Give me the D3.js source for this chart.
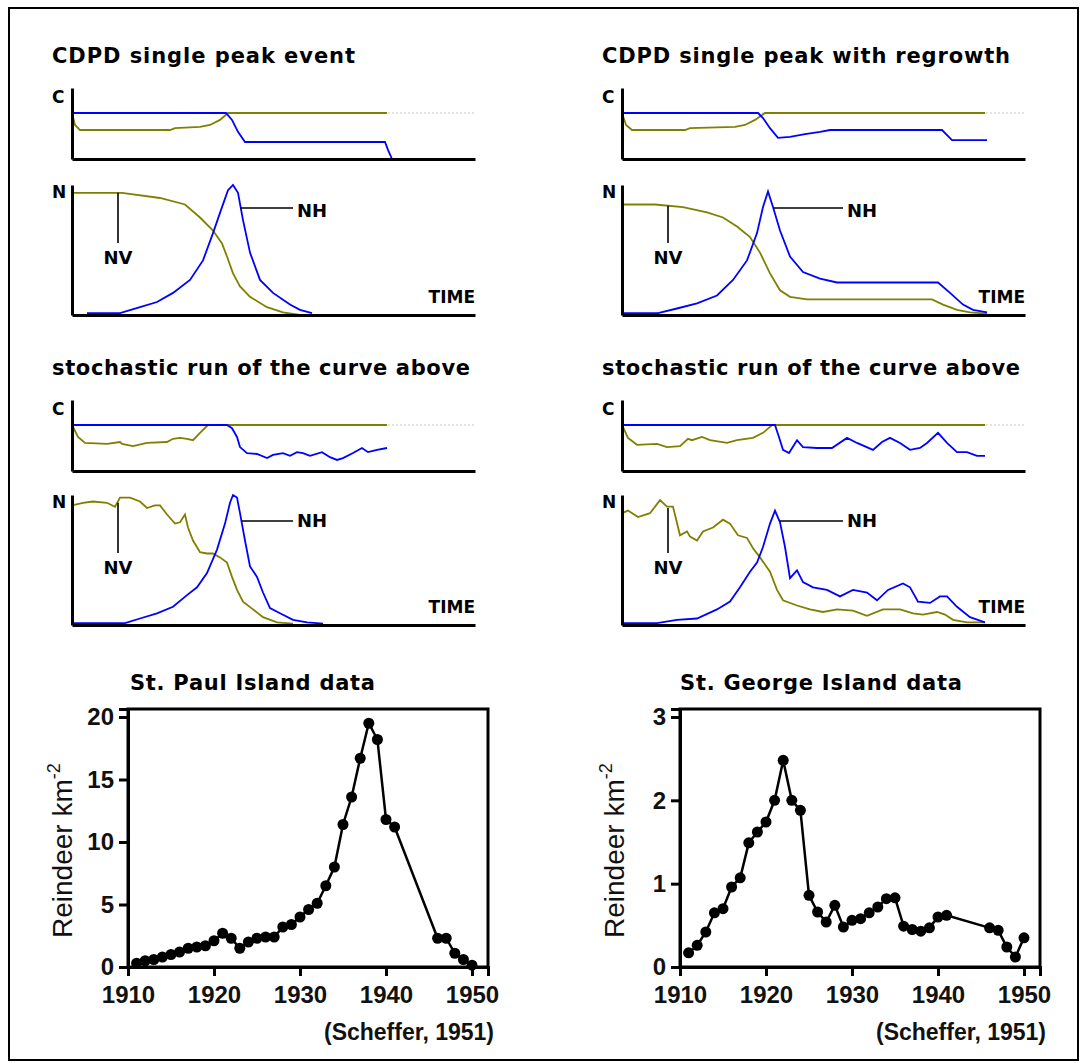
<!DOCTYPE html>
<html>
<head>
<meta charset="utf-8">
<script src="https://cdn.jsdelivr.net/npm/d3@7"></script>
<style>
  body { margin: 0; background: #fff; }
  svg { display: block; }
</style>
</head>
<body>
<svg id="chart" width="1081" height="1063"></svg>
<script>
// ---- model panels: time in % of run, C and N relative to their maximum ----
const p1CBlue = [[0,1],[38.5,1],[40,0.85],[41.5,0.59],[43.25,0.37],[78.25,0.37],[79,0.2],[80,0]];
const p1COlive = [[0,1],[0.75,0.74],[2,0.63],[24.5,0.63],[25.75,0.67],[32,0.7],[34.5,0.74],[37,0.85],[39,1],[78.75,1]];
const p1NV = [[0,0.94],[12.5,0.94],[22,0.9],[28.25,0.85],[32,0.75],[35.25,0.65],[37.5,0.55],[38.75,0.45],[40.25,0.32],[42,0.22],[44.5,0.14],[48.75,0.06],[52.75,0.02],[57,0]];
const p1NH = [[3.75,0.015],[12,0.015],[17,0.06],[21.25,0.1],[25.25,0.17],[29.5,0.27],[32.75,0.42],[35.25,0.63],[37.5,0.83],[39,0.96],[40.25,1],[41.5,0.94],[42.75,0.73],[44.5,0.48],[47,0.27],[50.25,0.17],[54.5,0.08],[57,0.04],[60,0.015]];

const p2CBlue = [[0,1],[34,1],[35.25,0.89],[37,0.67],[39,0.46],[42,0.48],[45.75,0.54],[49.5,0.59],[52,0.63],[80,0.63],[82.5,0.41],[91.25,0.41]];
const p2COlive = [[0,1],[1,0.74],[2.5,0.63],[15.75,0.63],[17,0.67],[28.25,0.7],[30.75,0.74],[33.25,0.85],[35.75,1],[90.75,1]];
const p2NV = [[0,0.85],[8.25,0.85],[15.25,0.83],[21.25,0.79],[25.25,0.75],[28.75,0.68],[32,0.6],[34.5,0.48],[37,0.32],[39.5,0.19],[42,0.14],[46.25,0.12],[77.5,0.12],[80.25,0.08],[83.75,0.04],[87,0.02],[91.25,0.01]];
const p2NH = [[0,0.015],[9,0.015],[13.75,0.05],[18.75,0.09],[23.75,0.15],[27.75,0.27],[31.25,0.42],[33.75,0.63],[35.25,0.83],[36.5,0.95],[37.75,0.83],[39.5,0.65],[42,0.45],[45.25,0.33],[49.5,0.28],[53.75,0.25],[79,0.25],[82,0.17],[85.25,0.08],[87.75,0.04],[91.25,0.02]];

const p3CBlue = [[0,1],[38.75,1],[40,0.93],[41.25,0.74],[42,0.52],[43.75,0.39],[46.25,0.37],[48.75,0.28],[50.25,0.35],[52.75,0.39],[54.5,0.33],[56.25,0.41],[57.75,0.39],[59.5,0.33],[62.5,0.41],[64.5,0.3],[66.25,0.24],[67.75,0.28],[70.25,0.39],[72.5,0.5],[74,0.41],[76.25,0.46],[78.75,0.5]];
const p3COlive = [[0,1],[1.5,0.74],[3.25,0.61],[8.75,0.59],[12,0.63],[12.5,0.59],[15.25,0.54],[18.75,0.61],[23.75,0.63],[25.25,0.7],[27,0.72],[28.75,0.7],[30.25,0.67],[32,0.83],[34,1],[78.75,1]];
const p3NV = [[0,0.92],[2.75,0.94],[5.25,0.95],[8.75,0.94],[10.75,0.91],[12,0.98],[14.5,0.98],[17,0.95],[18.75,0.9],[20.75,0.92],[22,0.92],[23.75,0.85],[25.75,0.78],[27,0.79],[28.25,0.85],[29,0.75],[30.25,0.65],[32,0.56],[33.75,0.55],[35.25,0.55],[37,0.52],[38.75,0.48],[40,0.37],[41.25,0.27],[42.75,0.18],[45.25,0.12],[47.75,0.06],[51.25,0.02],[55.25,0.01]];
const p3NH = [[0,0.015],[13.25,0.015],[17,0.05],[21.25,0.09],[25.25,0.14],[28.75,0.23],[31.25,0.29],[33.75,0.4],[36.25,0.58],[38.25,0.78],[39.5,0.94],[40.25,1],[41.25,0.98],[42,0.86],[43.25,0.65],[44.5,0.45],[46.25,0.37],[47.75,0.25],[49.5,0.13],[52,0.09],[55.25,0.04],[58.75,0.02],[62.75,0.01]];

const p4CBlue = [[0,1],[38.25,1],[39.5,0.67],[40.25,0.46],[41.75,0.39],[43.75,0.67],[45.25,0.52],[48.75,0.5],[52.5,0.5],[56.25,0.72],[58.75,0.61],[62.75,0.46],[65,0.63],[67,0.72],[69.5,0.61],[72,0.46],[74.5,0.5],[76.25,0.61],[79,0.83],[81.25,0.61],[83.75,0.41],[86.25,0.41],[88.75,0.33],[90.75,0.33]];
const p4COlive = [[0,1],[1.5,0.72],[3.75,0.57],[8.75,0.59],[11.25,0.52],[14.5,0.54],[16.5,0.7],[17.5,0.67],[20,0.74],[22,0.67],[26.25,0.61],[28.75,0.67],[32.75,0.72],[35.25,0.83],[37,0.96],[37.5,1],[90.75,1]];
const p4NV = [[0,0.86],[1.5,0.88],[4,0.83],[7,0.86],[9.5,0.96],[11.25,0.91],[12.75,0.91],[14.5,0.69],[16.25,0.72],[17,0.68],[18.75,0.65],[20.25,0.72],[22.75,0.75],[25.25,0.81],[27,0.78],[29,0.69],[31.25,0.67],[32.75,0.59],[34.5,0.52],[37,0.41],[38.75,0.27],[40.25,0.19],[43.75,0.15],[47,0.12],[50.25,0.1],[53.75,0.12],[57.75,0.11],[61.25,0.07],[65.25,0.12],[69.5,0.12],[72.75,0.09],[75.25,0.08],[78.75,0.1],[80.75,0.08],[82.75,0.04],[86.25,0.02],[90.75,0.02]];
const p4NH = [[0,0.015],[8.75,0.015],[13.75,0.04],[18.75,0.05],[23.75,0.12],[27,0.18],[29.5,0.29],[32,0.41],[33.75,0.48],[35.25,0.6],[37,0.78],[38.25,0.88],[39.5,0.79],[40.75,0.6],[42,0.36],[43.75,0.42],[45.25,0.33],[47.75,0.29],[51.25,0.27],[54.5,0.22],[57.75,0.27],[61.25,0.25],[63.75,0.19],[66.5,0.27],[70.25,0.32],[72,0.29],[74,0.18],[77,0.17],[79.5,0.22],[81.25,0.22],[83.75,0.14],[87,0.06],[90.75,0.02]];

// leader lines: NV [t, from N, to N], NH [t from, t to, N]
const nvLeaders = [[11.5,0.94,0.554],[11.5,0.84,0.554],[11.5,0.94,0.554],[11.5,0.9,0.554]];
const nhLeaders = [[42,55.25,0.823],[37.75,55.25,0.823],[42.5,55.25,0.8],[39.5,55.25,0.8]];

const panelTitles = ['CDPD single peak event', 'CDPD single peak with regrowth',
                     'stochastic run of the curve above', 'stochastic run of the curve above'];

// ---- reindeer data (Scheffer, 1951) ----
const years = [1911,1912,1913,1914,1915,1916,1917,1918,1919,1920,1921,1922,1923,1924,1925,1926,1927,1928,1929,1930,
               1931,1932,1933,1934,1935,1936,1937,1938,1939,1940,1941,1946,1947,1948,1949,1950];
const stPaul = [0.3,0.5,0.6,0.8,1.0,1.2,1.5,1.6,1.7,2.1,2.7,2.3,1.5,2.0,2.3,2.4,2.4,3.2,3.4,4.0,
                4.6,5.1,6.5,8.0,11.4,13.6,16.7,19.5,18.2,11.8,11.2,2.3,2.3,1.1,0.6,0.15];
const stGeorge = [0.17,0.26,0.42,0.65,0.7,0.96,1.07,1.49,1.62,1.74,2.0,2.48,2.0,1.88,0.86,0.66,0.54,0.74,0.48,0.56,
                  0.58,0.65,0.72,0.82,0.83,0.49,0.45,0.43,0.47,0.6,0.62,0.47,0.44,0.24,0.12,0.35];
const yearTicks = [1910,1920,1930,1940,1950];
const stPaulTicks = [0,5,10,15,20];
const stGeorgeTicks = [0,1,2,3];

const BLUE = '#0000ff', OLIVE = '#808000';
const svg = d3.select('#chart');

svg.append('rect').attr('x', 9).attr('y', 8).attr('width', 1069).attr('height', 1052)
  .attr('fill', 'none').attr('stroke', '#000').attr('stroke-width', 2);

const panels = [
  { x0: 72,  cBase: 159, nBase: 315, titleY: 63,  titleW: 303, c: [p1COlive, p1CBlue], n: [p1NV, p1NH] },
  { x0: 622, cBase: 159, nBase: 315, titleY: 63,  titleW: 408, c: [p2COlive, p2CBlue], n: [p2NV, p2NH] },
  { x0: 72,  cBase: 471, nBase: 625, titleY: 375, titleW: 418, c: [p3COlive, p3CBlue], n: [p3NV, p3NH] },
  { x0: 622, cBase: 471, nBase: 625, titleY: 375, titleW: 418, c: [p4COlive, p4CBlue], n: [p4NV, p4NH] }
];

const boldSans = '"DejaVu Sans", Verdana, sans-serif';

panels.forEach((p, i) => {
  const g = svg.append('g');
  const x = d3.scaleLinear().domain([0, 100.75]).range([p.x0, p.x0 + 403]);
  const yc = d3.scaleLinear().domain([0, 1]).range([p.cBase, p.cBase - 46]);
  const yn = d3.scaleLinear().domain([0, 1]).range([p.nBase, p.nBase - 130]);

  g.append('text').attr('x', p.x0 - 20).attr('y', p.titleY)
    .attr('textLength', p.titleW).attr('lengthAdjust', 'spacing')
    .style('font-family', boldSans).style('font-weight', 'bold').style('font-size', '21px')
    .text(panelTitles[i]);

  // dotted reference at full C
  g.append('line').attr('x1', x(0)).attr('x2', x(100.75)).attr('y1', yc(1)).attr('y2', yc(1))
    .attr('stroke', '#c8c8c8').attr('stroke-width', 1.2).attr('stroke-dasharray', '2,2');

  const lineC = d3.line().x(d => x(d[0])).y(d => yc(d[1]));
  const lineN = d3.line().x(d => x(d[0])).y(d => yn(d[1]));

  [OLIVE, BLUE].forEach((col, k) => {
    g.append('path').attr('d', lineC(p.c[k])).attr('fill', 'none').attr('stroke', col).attr('stroke-width', 1.8);
  });
  [OLIVE, BLUE].forEach((col, k) => {
    g.append('path').attr('d', lineN(p.n[k])).attr('fill', 'none').attr('stroke', col).attr('stroke-width', 1.8);
  });

  // axes (no ticks)
  const axC = d3.scaleLinear().domain([0, 1.55]).range([p.cBase, p.cBase - 71]);
  const axN = d3.scaleLinear().domain([0, 1]).range([p.nBase, p.nBase - 130]);
  [[p.cBase, axC], [p.nBase, axN]].forEach(([base, ys]) => {
    const ax = g.append('g').attr('transform', `translate(0,${base})`)
      .call(d3.axisBottom(x).tickValues([]).tickSizeOuter(0));
    const ay = g.append('g').attr('transform', `translate(${p.x0},0)`)
      .call(d3.axisLeft(ys).tickValues([]).tickSizeOuter(0));
    [ax, ay].forEach(a => a.select('.domain').attr('stroke', '#000').attr('stroke-width', 3));
  });

  const lbl = (t, xx, yy, size, anchor) => g.append('text').attr('x', xx).attr('y', yy)
    .attr('text-anchor', anchor || 'start')
    .style('font-family', boldSans).style('font-weight', 'bold').style('font-size', size + 'px').text(t);

  lbl('C', p.x0 - 20, p.cBase - 56, 17);
  lbl('N', p.x0 - 20, p.nBase - 117, 17);
  lbl('TIME', x(100.75), p.nBase - 12, 17, 'end');

  const nv = nvLeaders[i], nh = nhLeaders[i];
  g.append('line').attr('x1', x(nv[0])).attr('x2', x(nv[0])).attr('y1', yn(nv[1])).attr('y2', yn(nv[2]))
    .attr('stroke', '#000').attr('stroke-width', 1.6);
  g.append('line').attr('x1', x(nh[0])).attr('x2', x(nh[1])).attr('y1', yn(nh[2])).attr('y2', yn(nh[2]))
    .attr('stroke', '#000').attr('stroke-width', 1.6);
  lbl('NV', x(nv[0]), yn(0.39), 18, 'middle');
  lbl('NH', x(nh[1] + 1), yn(0.755), 18);
});

// ---- island charts ----
const islands = [
  { title: 'St. Paul Island data', titleX: 130, titleW: 245, left: 128, values: stPaul, max: 20.64, ticks: stPaulTicks },
  { title: 'St. George Island data', titleX: 680, titleW: 282, left: 680, values: stGeorge, max: 3.096, ticks: stGeorgeTicks }
];
const arial = '"Liberation Sans", Arial, sans-serif';

islands.forEach(isl => {
  const g = svg.append('g');
  const top = 709, bottom = 967;
  const x = d3.scaleLinear().domain([1910, 1951.86]).range([isl.left, isl.left + 360]);
  const y = d3.scaleLinear().domain([0, isl.max]).range([bottom, top]);

  g.append('text').attr('x', isl.titleX).attr('y', 690)
    .attr('textLength', isl.titleW).attr('lengthAdjust', 'spacing')
    .style('font-family', boldSans).style('font-weight', 'bold').style('font-size', '21px')
    .text(isl.title);

  g.append('rect').attr('x', x(1910)).attr('y', top).attr('width', x(1951.86) - x(1910)).attr('height', bottom - top)
    .attr('fill', 'none').attr('stroke', '#000').attr('stroke-width', 3);

  const ax = g.append('g').attr('transform', `translate(0,${bottom})`)
    .call(d3.axisBottom(x).tickValues(yearTicks).tickSize(9).tickPadding(10).tickFormat(d3.format('d')));
  const ay = g.append('g').attr('transform', `translate(${x(1910)},0)`)
    .call(d3.axisLeft(y).tickValues(isl.ticks).tickSize(9).tickPadding(5).tickFormat(d3.format('d')));
  [ax, ay].forEach(a => {
    a.select('.domain').attr('stroke-width', 3);
    a.selectAll('.tick line').attr('stroke-width', 3);
    a.selectAll('.tick text').style('font-family', arial).style('font-weight', 'bold')
      .style('font-size', '24px').attr('fill', '#111');
  });

  const pts = years.map((yr, k) => [yr, isl.values[k]]);
  g.append('path').attr('d', d3.line().x(d => x(d[0])).y(d => y(d[1]))(pts))
    .attr('fill', 'none').attr('stroke', '#000').attr('stroke-width', 2.5);
  g.selectAll('circle').data(pts).join('circle')
    .attr('cx', d => x(d[0])).attr('cy', d => y(d[1])).attr('r', 5.5).attr('fill', '#000');

  const yl = g.append('text')
    .attr('transform', `translate(${isl.left - 56},938) rotate(-90)`)
    .style('font-family', arial).style('font-size', '28px').attr('fill', '#111');
  yl.append('tspan').text('Reindeer km');
  yl.append('tspan').attr('dy', -12).style('font-size', '18px').text('-2');

  g.append('text').attr('x', x(1951.86) + 6).attr('y', 1040).attr('text-anchor', 'end')
    .style('font-family', arial).style('font-weight', 'bold').style('font-size', '23px')
    .attr('fill', '#111').text('(Scheffer, 1951)');
});
</script>
</body>
</html>
